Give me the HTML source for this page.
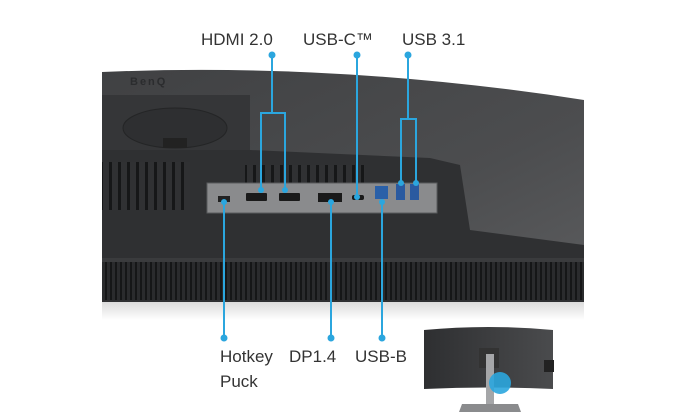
<!DOCTYPE html>
<html><head><style>
html,body{margin:0;padding:0;background:#fff;}
svg{display:block}
text{font-family:"Liberation Sans",sans-serif;fill:#333;font-size:17px}
</style></head><body>
<svg width="700" height="420" viewBox="0 0 700 420" xmlns="http://www.w3.org/2000/svg">
<defs>
<linearGradient id="bg" x1="0" y1="0" x2="1" y2="1">
<stop offset="0" stop-color="#404143"/><stop offset="0.6" stop-color="#4c4d4f"/><stop offset="1" stop-color="#5c5d5f"/>
</linearGradient>
<linearGradient id="tb" x1="0" y1="0" x2="1" y2="0">
<stop offset="0" stop-color="#2e2f31"/><stop offset="1" stop-color="#4a4b4d"/>
</linearGradient>
<pattern id="vent" width="5" height="10" patternUnits="userSpaceOnUse">
<rect width="5" height="10" fill="#2a2b2d"/><rect x="0" width="2" height="10" fill="#151617"/>
</pattern>
<pattern id="vent2" width="9" height="10" patternUnits="userSpaceOnUse">
<rect width="9" height="10" fill="#303133"/><rect x="1" width="3" height="10" fill="#161718"/>
</pattern>
<linearGradient id="sh" x1="0" y1="0" x2="0" y2="1"><stop offset="0" stop-color="#d8d8d8"/><stop offset="1" stop-color="#fff"/></linearGradient>
</defs>
<rect x="102" y="300" width="482" height="20" fill="url(#sh)"/>
<path d="M102 72 Q340 62 584 100 L584 302 L102 302 Z" fill="url(#bg)"/>
<rect x="102" y="95" width="148" height="55" fill="#353638"/>
<ellipse cx="175" cy="128" rx="52" ry="20" fill="#2e2f31" stroke="#242526"/>
<rect x="163" y="138" width="24" height="10" fill="#222"/>
<text x="130" y="85" style="font-size:11px;fill:#2b2c2e;font-weight:bold;letter-spacing:2px">BenQ</text>
<path d="M102 150 L250 150 L430 158 L460 165 L470 230 L584 245 L584 302 L102 302 Z" fill="#2f3032"/>
<rect x="102" y="162" width="88" height="48" fill="url(#vent2)"/>
<rect x="245" y="165" width="120" height="18" fill="url(#vent2)"/>
<rect x="207" y="183" width="230" height="30" fill="#8a8b8d"/>
<rect x="207" y="183" width="230" height="30" fill="none" stroke="#5a5b5d"/>
<rect x="218" y="196" width="12" height="6" fill="#222"/>
<rect x="246" y="193" width="21" height="8" rx="1" fill="#1a1a1a"/>
<rect x="279" y="193" width="21" height="8" rx="1" fill="#1a1a1a"/>
<rect x="318" y="193" width="24" height="9" fill="#1a1a1a"/>
<rect x="352" y="195" width="12" height="5" rx="2" fill="#1a1a1a"/>
<rect x="375" y="186" width="13" height="13" fill="#2a60a8"/>
<rect x="396" y="184" width="9" height="16" fill="#2a5aa0"/>
<rect x="410" y="184" width="9" height="16" fill="#2a5aa0"/>
<rect x="102" y="258" width="482" height="42" fill="url(#vent)"/>
<rect x="102" y="258" width="482" height="4" fill="#3a3b3d"/>
<g stroke="#2ba6de" stroke-width="2" fill="none">
<path d="M272 55 V113 M261 190 V113 H285 V190"/>
<path d="M357 55 V197"/>
<path d="M408 55 V119 M401 183 V119 H416 V183"/>
<path d="M224 202 V338 M331 202 V338 M382 202 V338"/>
</g>
<g fill="#2ba6de">
<circle cx="272" cy="55" r="3.5"/><circle cx="357" cy="55" r="3.5"/><circle cx="408" cy="55" r="3.5"/>
<circle cx="261" cy="190" r="3"/><circle cx="285" cy="190" r="3"/><circle cx="357" cy="197" r="3"/>
<circle cx="401" cy="183" r="3"/><circle cx="416" cy="183" r="3"/>
<circle cx="224" cy="202" r="3"/><circle cx="331" cy="202" r="3"/><circle cx="382" cy="202" r="3"/>
<circle cx="224" cy="338" r="3.5"/><circle cx="331" cy="338" r="3.5"/><circle cx="382" cy="338" r="3.5"/>
</g>
<text x="201" y="45">HDMI 2.0</text>
<text x="303" y="45">USB-C™</text>
<text x="402" y="45">USB 3.1</text>
<text x="220" y="362">Hotkey</text>
<text x="220" y="387">Puck</text>
<text x="289" y="362">DP1.4</text>
<text x="355" y="362">USB-B</text>
<path d="M424 330 Q488 324 553 330 L553 389 Q488 386 424 389 Z" fill="url(#tb)"/>
<rect x="544" y="360" width="10" height="12" fill="#222"/>
<rect x="479" y="348" width="20" height="20" fill="#333"/>
<rect x="486" y="354" width="8" height="50" fill="#a5a6a8"/>
<path d="M462 404 L518 404 L521 412 L459 412 Z" fill="#8a8b8d"/>
<circle cx="500" cy="383" r="11" fill="#2ba6de" opacity="0.9"/>
</svg>
</body></html>
